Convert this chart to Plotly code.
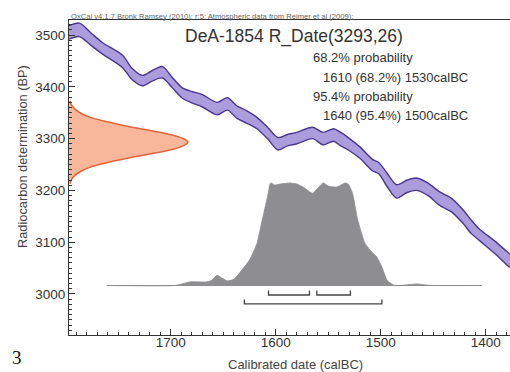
import plotly.graph_objects as go

# ---- Data ----
# Calibration curve (IntCal09 segment): calendar year BC, radiocarbon BP centre, 1-sigma
cal_years = [1797, 1787, 1776, 1765, 1746, 1737, 1727, 1718, 1708, 1699, 1689, 1680,
             1670, 1656, 1646, 1637, 1628, 1618, 1608, 1598, 1589, 1580, 1565, 1555,
             1545, 1539, 1531, 1520, 1508, 1502, 1494, 1485, 1475, 1466, 1455, 1444,
             1433, 1422, 1414, 1406, 1392, 1380, 1377]
cal_bp = [3505, 3510, 3492, 3474, 3449, 3425, 3412, 3421, 3428, 3409, 3388, 3380,
          3373, 3358, 3367, 3351, 3342, 3330, 3311, 3290, 3297, 3301, 3311, 3300,
          3307, 3300, 3290, 3273, 3249, 3243, 3220, 3198, 3208, 3212, 3202, 3184,
          3172, 3150, 3130, 3114, 3091, 3069, 3064]
cal_sigma = [13, 13, 12, 11, 12, 11, 10, 10, 11, 10, 10, 11,
             12, 12, 12, 12, 12, 11, 11, 12, 11, 11, 11, 12,
             12, 13, 12, 11, 11, 11, 13, 13, 12, 12, 12, 13,
             13, 13, 13, 11, 12, 13, 13]

# Radiocarbon date R_Date(3293,26): BP values and relative probability
rdate_bp = [3213, 3221, 3229, 3237, 3245, 3253, 3261, 3269, 3277, 3285, 3293,
            3301, 3309, 3317, 3325, 3333, 3341, 3349, 3357, 3365, 3373]
rdate_density = [0.01, 0.02, 0.05, 0.10, 0.18, 0.31, 0.47, 0.65, 0.83, 0.95, 1.0,
                 0.95, 0.83, 0.65, 0.47, 0.31, 0.18, 0.10, 0.05, 0.02, 0.01]

# Calibrated distribution: calendar year BC and relative probability
cal_dist_years = [1761, 1696, 1688, 1682, 1666, 1661, 1656, 1651, 1646, 1640, 1634,
                  1625, 1618, 1613, 1608, 1605, 1601, 1596, 1586, 1580, 1574, 1565,
                  1555, 1550, 1542, 1534, 1531, 1527, 1522, 1515, 1508, 1504, 1499,
                  1494, 1488, 1482, 1472, 1465, 1457, 1451, 1404]
cal_dist_prob = [0.0, 0.0, 0.02, 0.035, 0.035, 0.05, 0.10, 0.07, 0.045, 0.06, 0.13,
                 0.25, 0.41, 0.64, 0.86, 1.0, 0.98, 0.99, 1.0, 0.99, 0.96, 0.90,
                 1.0, 0.97, 0.96, 1.0, 0.99, 0.90, 0.64, 0.41, 0.32, 0.28, 0.18,
                 0.05, 0.005, 0.0, 0.01, 0.015, 0.005, 0.0, 0.0]

# Highest probability density ranges (calBC)
range_68 = [(1607, 1568), (1561, 1529)]
range_95 = [(1630, 1499)]

x_ticks = [1700, 1600, 1500, 1400]
y_ticks = [3000, 3100, 3200, 3300, 3400, 3500]

# ---- Styles ----
FONT = "Liberation Sans, Arial, sans-serif"
PURPLE_FILL = "#ab9ddc"
PURPLE_LINE = "#4b3791"
ORANGE_FILL = "#f8b79a"
ORANGE_LINE = "#e0653c"
GRAY = "#8e8e90"
AXIS = "#333333"
TEXT = "#333333"

fig = go.Figure()

# Calibration curve band
upper = [b + s for b, s in zip(cal_bp, cal_sigma)]
lower = [b - s for b, s in zip(cal_bp, cal_sigma)]
fig.add_trace(go.Scatter(x=cal_years, y=upper, mode="lines",
                         line=dict(color=PURPLE_LINE, width=1.4, shape="spline", smoothing=0.8),
                         hoverinfo="skip", showlegend=False))
fig.add_trace(go.Scatter(x=cal_years, y=lower, mode="lines", fill="tonexty",
                         fillcolor=PURPLE_FILL,
                         line=dict(color=PURPLE_LINE, width=1.4, shape="spline", smoothing=0.8),
                         hoverinfo="skip", showlegend=False))

# Radiocarbon date distribution (on the y axis)
fig.add_trace(go.Scatter(x=rdate_density, y=rdate_bp, xaxis="x2", yaxis="y",
                         mode="lines", fill="tozerox", fillcolor=ORANGE_FILL,
                         line=dict(color=ORANGE_LINE, width=1.5, shape="spline"),
                         hoverinfo="skip", showlegend=False))

# Calibrated distribution (on the x axis)
fig.add_trace(go.Scatter(x=[cal_dist_years[0], cal_dist_years[-1]], y=[0, 0],
                         xaxis="x", yaxis="y2", mode="lines",
                         line=dict(color=GRAY, width=1.2),
                         hoverinfo="skip", showlegend=False))
fig.add_trace(go.Scatter(x=cal_dist_years, y=cal_dist_prob, xaxis="x", yaxis="y2",
                         mode="lines", fill="tozeroy", fillcolor=GRAY,
                         line=dict(color=GRAY, width=0.8, shape="spline", smoothing=0.5),
                         hoverinfo="skip", showlegend=False))

# Range brackets
def bracket(ranges, bar, top):
    for a, b in ranges:
        fig.add_trace(go.Scatter(x=[a, a, b, b], y=[top, bar, bar, top],
                                 xaxis="x", yaxis="y2", mode="lines",
                                 line=dict(color="#444444", width=1.3),
                                 hoverinfo="skip", showlegend=False))

bracket(range_68, -0.093, -0.050)
bracket(range_95, -0.180, -0.137)

W, H = 510, 372
L, R, T, B = 69, 0, 20, 37
pw = W - L - R
ph = H - T - B

def px(x):
    return (x - L) / pw

def py(y):
    return (H - B - y) / ph

axis_common = dict(
    showline=True, linecolor=AXIS, linewidth=1.2,
    ticks="inside", ticklen=6, tickwidth=1.2, tickcolor=AXIS,
    showgrid=False, zeroline=False,
    tickfont=dict(family=FONT, size=13.5, color=TEXT),
    minor=dict(ticks="inside", ticklen=3, tickwidth=1, tickcolor=AXIS, dtick=10, showgrid=False),
)

fig.update_layout(
    width=W, height=H,
    margin=dict(l=L, r=R, t=T, b=B, pad=0),
    paper_bgcolor="white", plot_bgcolor="white",
    font=dict(family=FONT, color=TEXT),
    xaxis=dict(range=[1797, 1377], tickvals=x_ticks, mirror=True, ticklabelstandoff=-5,
               **axis_common),
    yaxis=dict(range=[2920.8, 3529], tickvals=y_ticks, mirror=False, **axis_common),
    xaxis2=dict(overlaying="x", range=[0, pw / 119], visible=False, anchor="y"),
    yaxis2=dict(overlaying="y", range=[-0.483, 2.590], visible=False, anchor="x"),
)

annotations = [
    dict(text="OxCal v4.1.7 Bronk Ramsey (2010); r:5; Atmospheric data from Reimer et al (2009);",
         x=px(69), y=py(16), xanchor="left", yanchor="middle",
         font=dict(size=7.6, color="#666666")),
    dict(text="DeA-1854 R_Date(3293,26)", x=px(183), y=py(36), xanchor="left", yanchor="middle",
         font=dict(size=17.5, color=TEXT)),
    dict(text="68.2% probability", x=px(311), y=py(57), xanchor="left", yanchor="middle",
         font=dict(size=13, color=TEXT)),
    dict(text="1610 (68.2%) 1530calBC", x=px(321), y=py(77), xanchor="left", yanchor="middle",
         font=dict(size=13, color=TEXT)),
    dict(text="95.4% probability", x=px(311), y=py(96), xanchor="left", yanchor="middle",
         font=dict(size=13, color=TEXT)),
    dict(text="1640 (95.4%) 1500calBC", x=px(321), y=py(115), xanchor="left", yanchor="middle",
         font=dict(size=13, color=TEXT)),
    dict(text="Radiocarbon determination (BP)", x=px(22), y=py(157), xanchor="center",
         yanchor="middle", textangle=-90, font=dict(size=12.8, color="#444444")),
    dict(text="Calibrated date (calBC)", x=px(295), y=py(364), xanchor="center",
         yanchor="middle", font=dict(size=13, color="#444444")),
    dict(text="3", x=px(17), y=py(357), xanchor="center", yanchor="middle",
         font=dict(size=19, color="#111111", family="Liberation Serif, serif")),
]
for a in annotations:
    a.update(xref="paper", yref="paper", showarrow=False)
fig.update_layout(annotations=annotations)

fig.write_html("out.html",
               config={"displayModeBar": False},
               post_script="document.body.style.margin='0';document.body.style.padding='0';")
